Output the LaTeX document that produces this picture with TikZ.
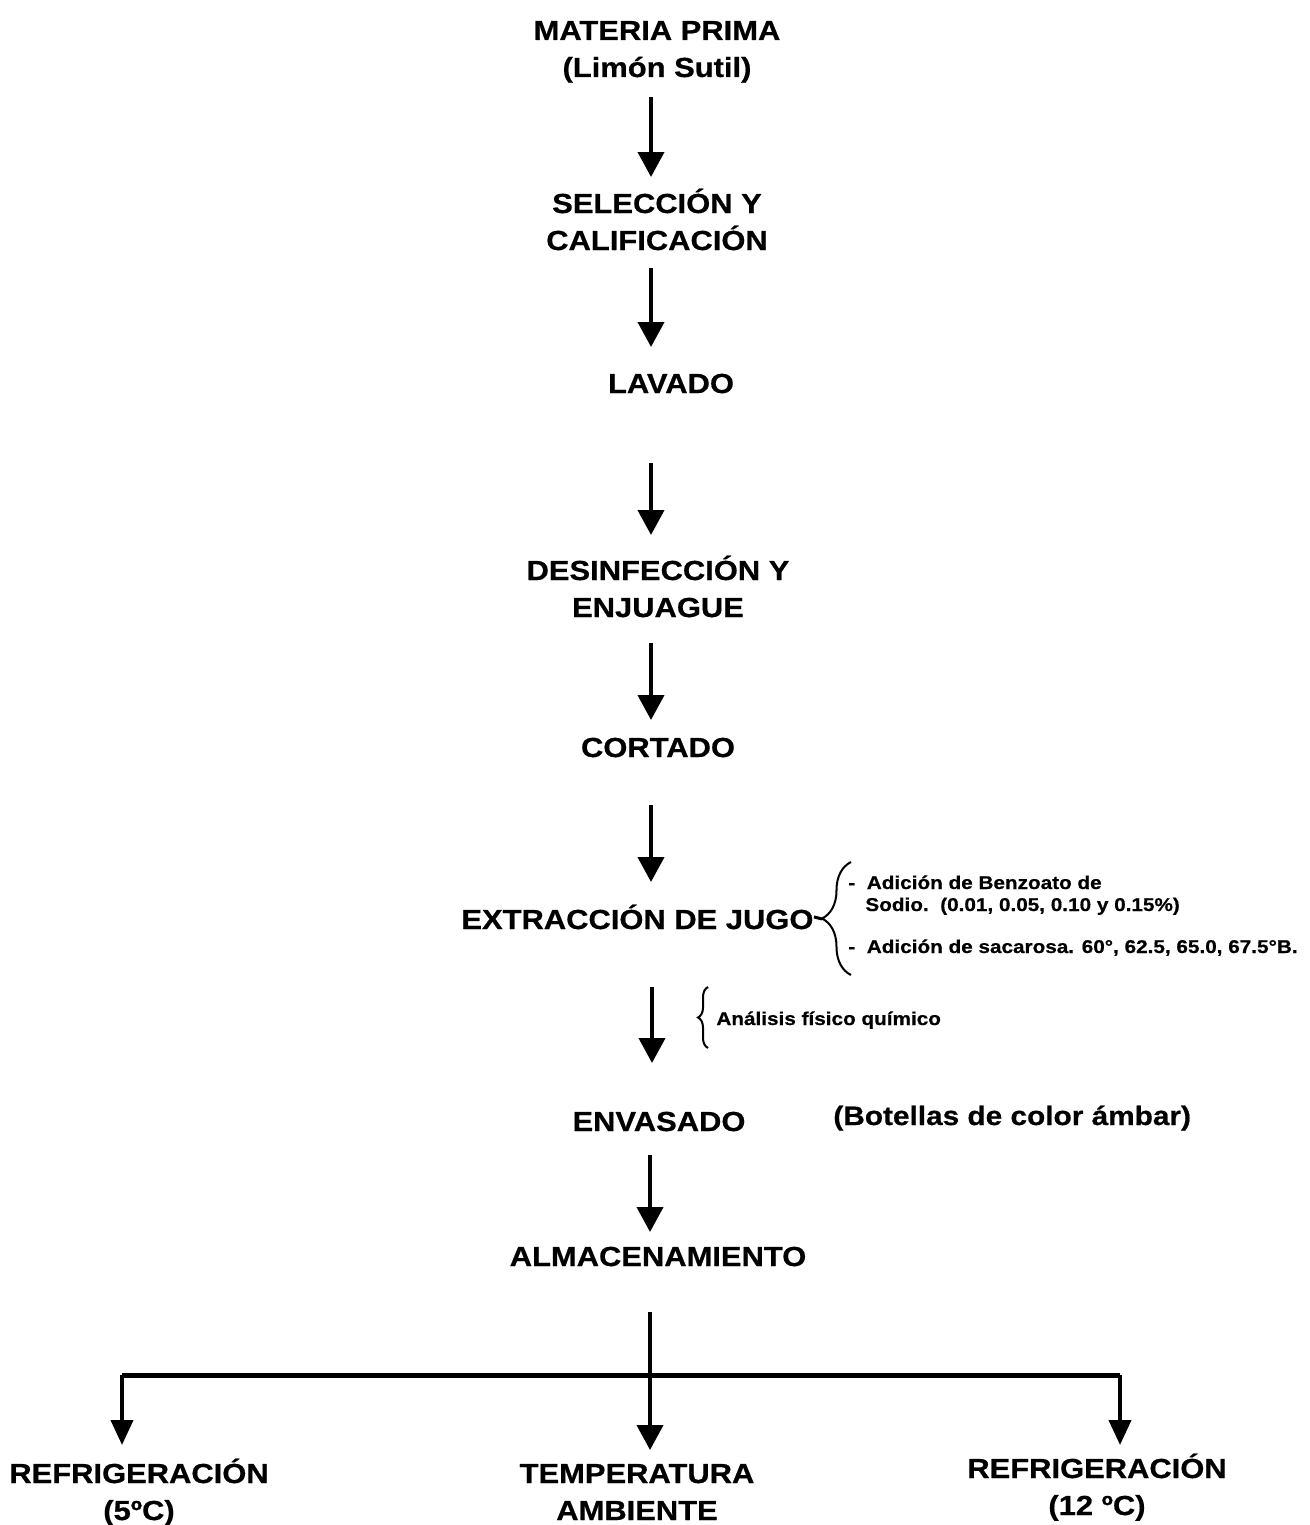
\documentclass[tikz,border=0pt]{standalone}
\usepackage{fontspec}
\setmainfont{Liberation Sans}[FakeStretch=1.12,BoldFeatures={FakeBold=0.6}]
\usetikzlibrary{arrows.meta,decorations.pathreplacing}
\begin{document}
\begin{tikzpicture}[x=0.5pt,y=-0.5pt,
  stage/.style={inner sep=0pt,anchor=base,align=center,
    font=\fontsize{13.8}{18.5}\selectfont\bfseries},
  aside/.style={inner sep=0pt,anchor=base west,
    font=\fontsize{13.3}{18.5}\selectfont\bfseries},
  note/.style={inner sep=0pt,anchor=base west,
    font=\fontsize{9.25}{11}\selectfont\bfseries},
  flow/.style={line width=2pt,-{Triangle[width=13pt,length=12.5pt]}},
  branch/.style={line width=2pt,-{Triangle[width=11pt,length=12.5pt]}},
  bracket/.style={line width=1pt,decorate,decoration={brace,amplitude=#1}}]
\path[use as bounding box,fill=white] (0,0) rectangle (1310,1525);

% process stages (two-line nodes are placed by the baseline of their last line)
\node[stage] (mp)   at (657,77)   {MATERIA PRIMA\\(Limón Sutil)};
\node[stage] (sel)  at (657,250)  {SELECCIÓN Y\\CALIFICACIÓN};
\node[stage] (lav)  at (671,393)  {LAVADO};
\node[stage] (des)  at (658,617)  {DESINFECCIÓN Y\\ENJUAGUE};
\node[stage] (cor)  at (658,757)  {CORTADO};
\node[stage,anchor=base west] (ext) at (461,929) {EXTRACCIÓN DE JUGO};
\node[stage] (env)  at (659,1131) {ENVASADO};
\node[aside] (bot) at (833,1125) {(Botellas de color ámbar)};
\node[stage] (alm)  at (658,1266) {ALMACENAMIENTO};
\node[stage] (ref5) at (139,1520) {REFRIGERACIÓN\\(5ºC)};
\node[stage] (tam)  at (637,1520) {TEMPERATURA\\AMBIENTE};
\node[stage] (ref12) at (1097,1515) {REFRIGERACIÓN\\(12 ºC)};

% side notes
\node[note] (n1) at (848,889) {-\ \ Adición de Benzoato de};
\node[note] (n2) at (865,911) {Sodio.\ \ (0.01, 0.05, 0.10 y 0.15\%)};
\node[note] (n3) at (848,953) {-\ \ Adición de sacarosa. 60°, 62.5, 65.0, 67.5°B.};
\node[note] (n4) at (716,1025) {Análisis físico químico};

% brackets
\coordinate (bt) at (822,919);
\draw[bracket=14.5pt] (851,975) -- (851,862);
\draw[line width=1.5pt] (ext.east) -- (bt);
\draw[bracket=5pt] (708,1048) -- (708,987);

% arrows between stages
\coordinate (a1s) at (651,97);   \coordinate (a1e) at (651,177);
\coordinate (a2s) at (651,268);  \coordinate (a2e) at (651,347);
\coordinate (a3s) at (651,463);  \coordinate (a3e) at (651,535);
\coordinate (a4s) at (651,643);  \coordinate (a4e) at (651,720);
\coordinate (a5s) at (651,805);  \coordinate (a5e) at (651,882);
\coordinate (a6s) at (652,987);  \coordinate (a6e) at (652,1063);
\coordinate (a7s) at (650,1155); \coordinate (a7e) at (650,1232);
\foreach \i in {1,...,7} \draw[flow] (a\i s) -- (a\i e);

% storage branches
\coordinate (top) at (650,1312);
\coordinate (split) at (650,1375);
\coordinate (bl) at (122,1375);
\coordinate (br) at (1120,1375);
\draw[line width=2pt] (top) -- (split);
\draw[line width=2.5pt] (bl) -- (br);
\draw[branch] (bl) -- (122,1445);
\draw[flow] (split) -- (650,1450);
\draw[branch] (br) -- (1120,1445);
\end{tikzpicture}
\end{document}
